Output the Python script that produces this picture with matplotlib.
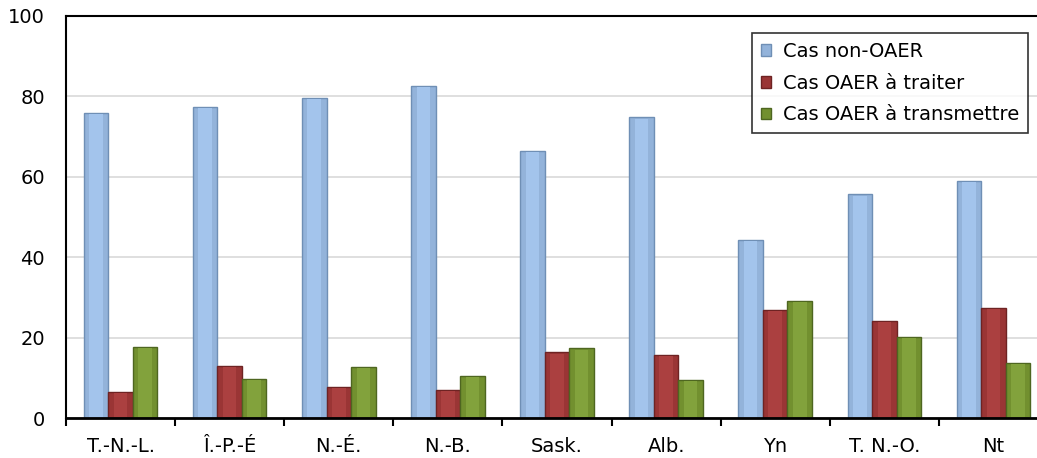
import matplotlib.pyplot as plt
import numpy as np

categories = ["T.-N.-L.", "Î.-P.-É", "N.-É.", "N.-B.", "Sask.", "Alb.", "Yn", "T. N.-O.", "Nt"]
non_oaer = [75.9, 77.4, 79.7, 82.6, 66.5, 74.8, 44.3, 55.6, 59.0]
oaer_traiter = [6.5, 12.9, 7.7, 7.0, 16.3, 15.6, 26.9, 24.2, 27.4]
oaer_transmettre = [17.7, 9.7, 12.7, 10.4, 17.3, 9.5, 29.1, 20.2, 13.8]

# name, values, face, edge, inner highlight
series = [
    ("Cas non-OAER", non_oaer, "#93b3da", "#6f8fb5", "#a3c4ec"),
    ("Cas OAER à traiter", oaer_traiter, "#9a3535", "#6e2323", "#ab4040"),
    ("Cas OAER à transmettre", oaer_transmettre, "#72902f", "#4e6620", "#82a23c"),
]

plt.rcParams['font.family'] = ['DejaVu Sans']

W, H, dpi = 1037, 458, 100
fig = plt.figure(figsize=(W / dpi, H / dpi), dpi=dpi)
ax = fig.add_axes([66 / W, 40 / H, (1048 - 66) / W, (418 - 16) / H])

x = np.arange(len(categories))
bw = 0.225
for i, (name, vals, fc, ec, hc) in enumerate(series):
    ax.bar(x + (i - 1) * bw, vals, width=bw, color=fc, edgecolor=ec,
           linewidth=1, label=name, zorder=3)
    # lighter middle to hint at the bevelled look
    ax.bar(x + (i - 1) * bw, np.array(vals) - 0.6, width=bw * 0.55, bottom=0.3,
           color=hc, linewidth=0, zorder=4)

ax.set_xlim(-0.5, len(categories) - 0.5)
ax.set_ylim(0, 100)
ax.set_yticks([0, 20, 40, 60, 80, 100])
ax.yaxis.grid(True, color="#d9d9d9", linewidth=1.2, zorder=0)
ax.tick_params(axis="y", length=0, labelsize=14, pad=15, colors="black")

ax.set_xticks(np.arange(len(categories) + 1) - 0.5)
ax.set_xticklabels([])
ax.set_xticks(x, minor=True)
ax.set_xticklabels(categories, minor=True)
ax.tick_params(axis="x", which="major", length=6, width=1.5, direction="out")
ax.tick_params(axis="x", which="minor", length=0, labelsize=14, pad=14)

for s in ["left", "top"]:
    ax.spines[s].set_linewidth(1.5)
ax.spines["bottom"].set_linewidth(2)
ax.spines["bottom"].set_zorder(5)
ax.spines["right"].set_visible(False)

leg = ax.legend(loc="upper right", bbox_to_anchor=((1028 - 66) / (1048 - 66), (418 - 33) / (418 - 16)),
                fontsize=14, frameon=True, fancybox=False, edgecolor="black",
                handlelength=0.55, handleheight=0.55, handletextpad=0.6,
                borderpad=0.45, labelspacing=0.66, borderaxespad=0)
leg.get_frame().set_linewidth(1.2)

plt.savefig("out.png", dpi=dpi)
plt.close(fig)
